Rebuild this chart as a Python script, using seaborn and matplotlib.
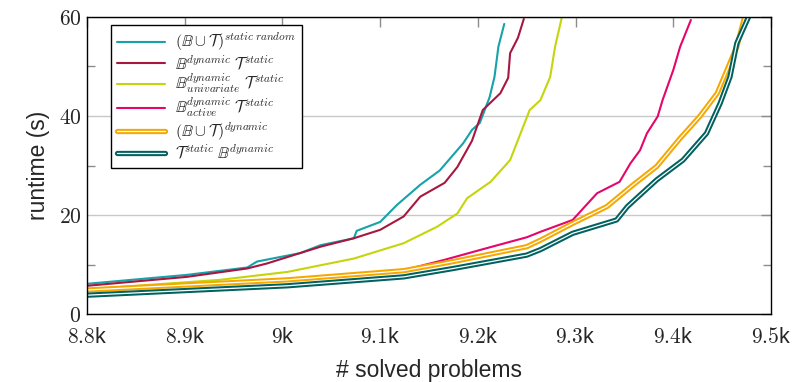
import matplotlib
matplotlib.use("Agg")
import matplotlib.pyplot as plt
from matplotlib.legend_handler import HandlerTuple
from matplotlib.lines import Line2D
from matplotlib.ticker import FixedLocator
import pandas as pd
import seaborn as sns

# Cactus-style data: number of solved problems vs. runtime (s)
static_random_x = [8800, 8902, 8964, 8974, 9018, 9039, 9073, 9076, 9100, 9117, 9141, 9161, 9185, 9194, 9202, 9212, 9217, 9221, 9227]
static_random_y = [6.1, 7.9, 9.4, 10.6, 12.3, 13.9, 15.3, 16.8, 18.6, 22.0, 26.1, 29.0, 34.5, 37.2, 38.6, 43.8, 47.9, 54.0, 58.6]

dyn_static_x = [8800, 8902, 8964, 8984, 9039, 9073, 9100, 9124, 9141, 9166, 9179, 9194, 9205, 9223, 9231, 9233, 9241, 9247]
dyn_static_y = [5.7, 7.5, 9.2, 10.2, 13.6, 15.3, 17.0, 19.7, 23.7, 26.5, 29.7, 35.0, 41.2, 44.6, 47.7, 52.7, 55.8, 59.6]

univariate_x = [8800, 8936, 9005, 9073, 9124, 9158, 9179, 9189, 9213, 9233, 9253, 9264, 9274, 9279, 9286]
univariate_y = [5.0, 6.9, 8.5, 11.2, 14.3, 17.6, 20.3, 23.4, 26.7, 31.1, 41.2, 43.2, 47.9, 54.0, 60.0]

active_x = [8800, 9005, 9124, 9131, 9165, 9209, 9250, 9264, 9297, 9322, 9345, 9356, 9366, 9373, 9384, 9389, 9400, 9407, 9418]
active_y = [4.9, 7.0, 8.9, 9.2, 10.9, 13.3, 15.5, 16.6, 19.0, 24.4, 26.7, 30.4, 33.1, 36.5, 39.9, 43.2, 49.3, 54.0, 59.4]

union_dyn_x = [8800, 9005, 9124, 9175, 9250, 9264, 9297, 9332, 9359, 9383, 9407, 9427, 9445, 9455, 9465, 9473]
union_dyn_y = [4.85, 6.9, 8.75, 10.6, 13.6, 14.9, 18.3, 21.7, 26.1, 29.8, 35.5, 39.9, 44.6, 49.3, 54.0, 60.0]

static_dyn_x = [8800, 9005, 9124, 9175, 9250, 9264, 9297, 9342, 9353, 9383, 9410, 9434, 9448, 9458, 9465, 9477]
static_dyn_y = [3.8, 5.7, 7.5, 9.2, 11.9, 13.0, 16.3, 19.0, 21.7, 27.1, 31.1, 36.5, 42.6, 47.9, 54.7, 60.0]

labels = [
    r"$(\mathbb{B} \cup \mathcal{T})^{static\ random}$",
    r"$\mathbb{B}^{dynamic}\ \mathcal{T}^{static}$",
    r"$\mathbb{B}^{dynamic}_{univariate}\ \mathcal{T}^{static}$",
    r"$\mathbb{B}^{dynamic}_{active}\ \mathcal{T}^{static}$",
    r"$(\mathbb{B} \cup \mathcal{T})^{dynamic}$",
    r"$\mathcal{T}^{static}\ \mathbb{B}^{dynamic}$",
]
colors = ["#17A2AA", "#A8173F", "#C5D50C", "#E4066A", "#F5A800", "#00615F"]
doubled = [False, False, False, False, True, True]

x_ticks = [8800, 8900, 9000, 9100, 9200, 9300, 9400, 9500]
x_tick_labels = ["$8.8$k", "$8.9$k", "$9$k", "$9.1$k", "$9.2$k", "$9.3$k", "$9.4$k", "$9.5$k"]
y_ticks = [0, 20, 40, 60]
y_tick_labels = ["$0$", "$20$", "$40$", "$60$"]

series = [
    (static_random_x, static_random_y),
    (dyn_static_x, dyn_static_y),
    (univariate_x, univariate_y),
    (active_x, active_y),
    (union_dyn_x, union_dyn_y),
    (static_dyn_x, static_dyn_y),
]

sns.set_theme(style="white")
plt.rcParams["font.family"] = ["Liberation Sans", "DejaVu Sans"]
plt.rcParams["mathtext.fontset"] = "cm"

fig = plt.figure(figsize=(7.97, 3.82), dpi=100)
ax = fig.add_axes([0.1092, 0.178, 0.8582, 0.7775])

handles = []
for (xs, ys), lab, col, dbl in zip(series, labels, colors, doubled):
    df = pd.DataFrame({"solved": xs, "runtime": ys})
    if dbl:
        sns.lineplot(data=df, x="solved", y="runtime", ax=ax, color=col,
                     linewidth=3.8, estimator=None, sort=True, zorder=3)
        sns.lineplot(data=df, x="solved", y="runtime", ax=ax, color="white",
                     linewidth=0.9, estimator=None, sort=True, zorder=3)
        handles.append((Line2D([], [], color=col, lw=3.8),
                        Line2D([], [], color="white", lw=0.9)))
    else:
        sns.lineplot(data=df, x="solved", y="runtime", ax=ax, color=col,
                     linewidth=1.5, estimator=None, sort=True, zorder=3)
        handles.append(Line2D([], [], color=col, lw=1.5))

ax.set_xlim(8800, 9500)
ax.set_ylim(0, 60)
ax.set_xticks(x_ticks)
ax.set_xticklabels(x_tick_labels)
ax.set_yticks(y_ticks)
ax.set_yticklabels(y_tick_labels)
ax.yaxis.set_minor_locator(FixedLocator([10, 30, 50]))

ax.tick_params(axis="both", which="major", direction="in", length=7.5, width=1.0,
               color="#8c8c8c", labelsize=15.5, top=True, right=True, pad=4)
ax.tick_params(axis="y", which="minor", direction="in", length=6, width=1.0,
               color="#8c8c8c", left=True, right=True)
ax.tick_params(axis="x", which="major", pad=9)

ax.yaxis.grid(True, color="#c8c8c8", linewidth=1.0)
ax.xaxis.grid(False)
ax.set_axisbelow(True)
for s in ax.spines.values():
    s.set_color("black")
    s.set_linewidth(1.0)
    s.set_zorder(4)

ax.set_xlabel("# solved problems", fontsize=16.5, labelpad=8)
ax.set_ylabel("runtime (s)", fontsize=16.5, labelpad=6)

leg = ax.legend(handles, labels, handler_map={tuple: HandlerTuple(ndivide=1)},
                loc="upper left", bbox_to_anchor=(0.03, 0.985), fontsize=11.5,
                frameon=True, fancybox=False, edgecolor="black", framealpha=1,
                handlelength=3.0, handletextpad=0.6, labelspacing=0.0,
                borderpad=0.4, borderaxespad=0.2)
leg.get_frame().set_linewidth(1.0)
leg.set_zorder(5)

fig.savefig("out.png", dpi=100)
